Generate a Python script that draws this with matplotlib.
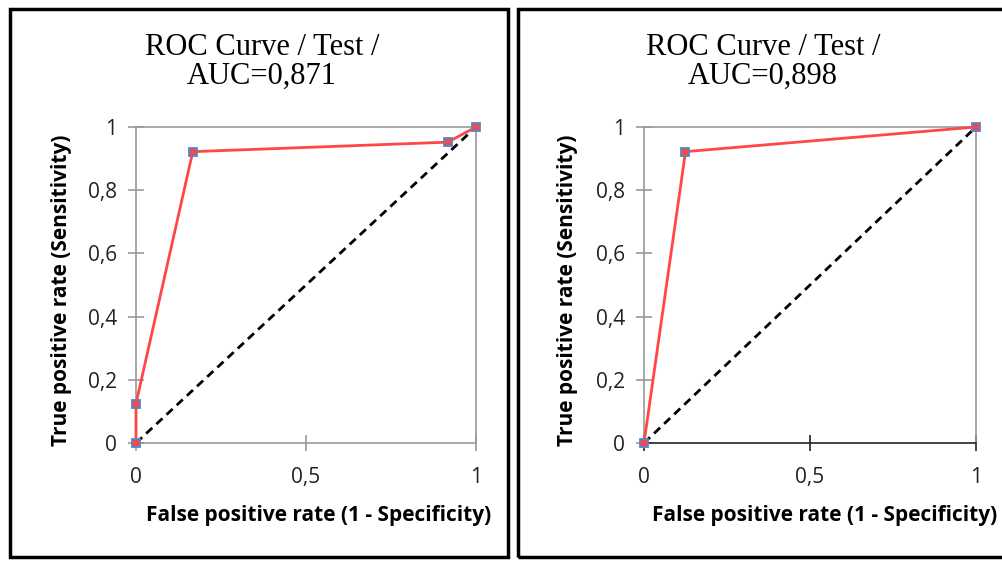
import matplotlib
matplotlib.use("Agg")
import matplotlib.pyplot as plt
from matplotlib.patches import Rectangle

# data
fpr_left = [0, 0, 0.167, 0.917, 1]
tpr_left = [0, 0.125, 0.922, 0.952, 1]
auc_left = "0,871"

fpr_right = [0, 0.125, 1]
tpr_right = [0, 0.922, 1]
auc_right = "0,898"

x_ticks = [0, 0.5, 1]
x_labels = ["0", "0,5", "1"]
y_ticks = [0, 0.2, 0.4, 0.6, 0.8, 1]
y_labels = ["0", "0,2", "0,4", "0,6", "0,8", "1"]

W, H = 1003, 561
fig = plt.figure(figsize=(W / 100, H / 100), dpi=100)

sans = "Open Sans"
serif = "Liberation Serif"


def px(x, y):
    return x / W, 1 - y / H


def panel(ax_px, fpr, tpr, auc, title_x, ylab_x, xlab_x, dark_bottom):
    x0, x1, y0, y1 = ax_px
    ax = fig.add_axes([x0 / W, 1 - y1 / H, (x1 - x0) / W, (y1 - y0) / H])
    ax.plot([0, 1], [0, 1], color="black", ls=(0, (3, 2)), lw=2, zorder=2)
    ax.plot(fpr, tpr, color="#ff4747", lw=2, marker="s", ms=6,
            mfc="#f04a4a", mec="#5b84c4", mew=1.3, zorder=3, clip_on=False)
    ax.set_xlim(0, 1)
    ax.set_ylim(0, 1)
    ax.set_xticks(x_ticks)
    ax.set_xticklabels(x_labels)
    ax.set_yticks(y_ticks)
    ax.set_yticklabels(y_labels)
    for s in ax.spines.values():
        s.set_color("#999999")
        s.set_linewidth(1.2)
    if dark_bottom:
        ax.spines["bottom"].set_color("#222222")
    ax.tick_params(axis="y", direction="inout", length=11, width=1.2,
                   color="#999999", pad=8, labelsize=15, labelcolor="#222222")
    ax.tick_params(axis="x", direction="inout", length=11, width=1.2,
                   color="#222222" if dark_bottom else "#999999", pad=12,
                   labelsize=15, labelcolor="#222222")
    for lab in ax.get_xticklabels() + ax.get_yticklabels():
        lab.set_fontfamily(sans)
    tx, ty = px(title_x, 62)
    fig.text(tx, ty, "ROC Curve / Test /\nAUC=" + auc, ha="center", va="center",
             fontfamily=serif, fontsize=22, linespacing=1.0)
    lx, ly = px(ylab_x, 290)
    fig.text(lx, ly, "True positive rate (Sensitivity)", rotation=90,
             ha="center", va="center", fontfamily=sans, fontweight="bold",
             fontsize=15)
    bx, by = px(xlab_x, 515)
    fig.text(bx, by, "False positive rate (1 - Specificity)", ha="center",
             va="center", fontfamily=sans, fontweight="bold", fontsize=15)
    return ax


panel((136, 476, 127, 443), fpr_left, tpr_left, auc_left, 262, 62, 319, False)
panel((644, 976, 127, 443), fpr_right, tpr_right, auc_right, 763, 568, 825, True)

# outer frames around each panel
for x0, x1 in [(10, 508), (518, 1010)]:
    fig.patches.append(Rectangle((x0 / W, 1 - 557 / H), (x1 - x0) / W, 548 / H,
                                 transform=fig.transFigure, fill=False,
                                 edgecolor="black", lw=2.5))

fig.savefig("out.png", dpi=100)
